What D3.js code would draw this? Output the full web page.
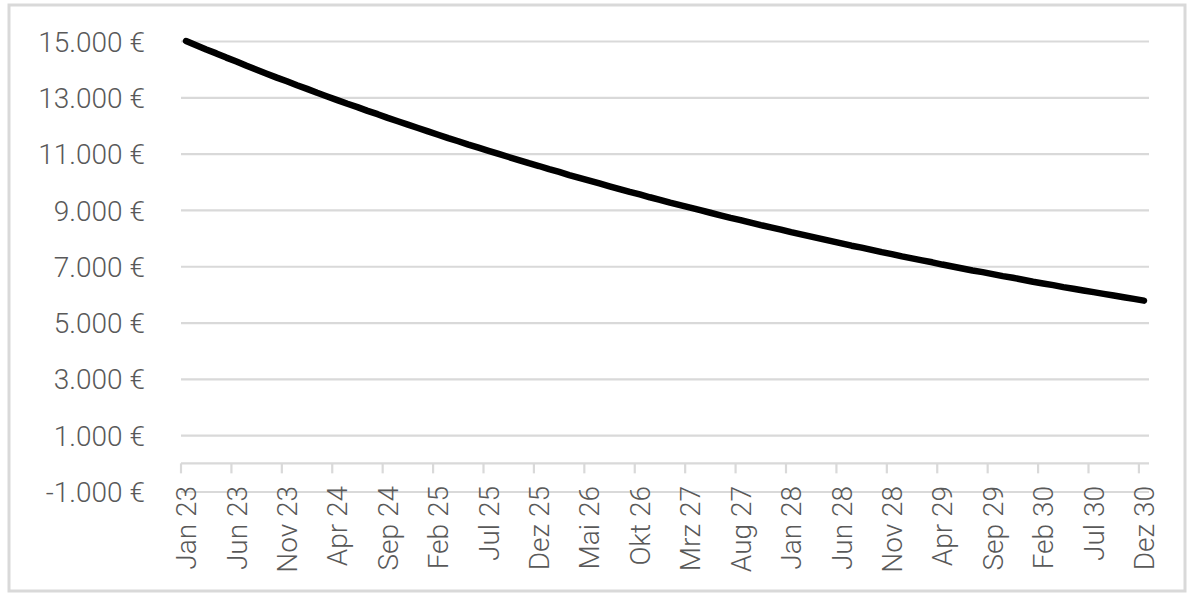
<!DOCTYPE html>
<html>
<head>
<meta charset="utf-8">
<script src="https://cdn.jsdelivr.net/npm/d3@7"></script>
<style>
  html, body { margin: 0; padding: 0; background: #fff; }
  svg { display: block; }
  text { font-family: Roboto, "Noto Sans", sans-serif; fill: #595959; font-weight: 300; }
</style>
</head>
<body>
<svg id="chart" width="1200" height="605"></svg>
<script>
// ---- data ----
const monthNames = ["Jan","Feb","Mrz","Apr","Mai","Jun","Jul","Aug","Sep","Okt","Nov","Dez"];
const years = ["23","24","25","26","27","28","29","30"];
const categories = years.flatMap(y => monthNames.map(m => m + " " + y));
const values = [
  15000,14850,14700,14560,14410,14270,14120,13980,13840,13700,
  13570,13430,13300,13160,13030,12900,12770,12650,12520,12400,
  12270,12150,12030,11910,11790,11670,11550,11440,11320,11210,
  11100,10990,10880,10770,10660,10560,10450,10350,10240,10140,
  10040,9940,9840,9740,9640,9550,9450,9360,9260,9170,
  9080,8990,8900,8810,8720,8640,8550,8460,8380,8300,
  8210,8130,8050,7970,7890,7810,7730,7660,7580,7500,
  7430,7350,7280,7210,7140,7060,6990,6920,6850,6790,
  6720,6650,6590,6520,6450,6390,6330,6260,6200,6140,
  6080,6020,5960,5900,5840,5780
];
const yTicks = [-1000,1000,3000,5000,7000,9000,11000,13000,15000];
const tickEvery = 5;

// ---- layout ----
const svg = d3.select("#chart");
const pLeft = 181, pRight = 1149, pTop = 41, pBottom = 491.5;

svg.append("rect")
  .attr("x", 9).attr("y", 5).attr("width", 1176).attr("height", 586)
  .attr("fill", "#fff").attr("stroke", "#d9d9d9").attr("stroke-width", 3);

const x = d3.scaleBand().domain(categories).range([pLeft, pRight]).padding(0);
const y = d3.scaleLinear().domain([-1000, 15000]).range([pBottom, pTop]);

const fmt = v => d3.format(",")(v).replace(/,/g, ".").replace("\u2212", "-") + " €";

// gridlines + y labels
const yAxis = d3.axisLeft(y).tickValues(yTicks).tickSize(-(pRight - pLeft)).tickFormat(fmt).tickPadding(36);
const gy = svg.append("g").attr("transform", `translate(${pLeft},0)`).call(yAxis);
gy.select(".domain").remove();
gy.selectAll(".tick line").attr("stroke", "#d9d9d9").attr("stroke-width", 2.2);
gy.selectAll(".tick text")
  .attr("font-size", 28)
  .attr("font-family", "Roboto")
  .attr("font-weight", 300)
  .attr("fill", "#595959")
  .attr("dy", "0.36em");

// x axis at zero
const tickCats = categories.filter((d, i) => i % tickEvery === 0);
const y0 = y(0);
const gx = svg.append("g");
gx.append("line")
  .attr("x1", pLeft).attr("x2", pRight).attr("y1", y0).attr("y2", y0)
  .attr("stroke", "#d9d9d9").attr("stroke-width", 2.2);
gx.selectAll("line.tk").data(tickCats).join("line").attr("class", "tk")
  .attr("x1", d => x(d)).attr("x2", d => x(d))
  .attr("y1", y0).attr("y2", y0 + 10)
  .attr("stroke", "#d9d9d9").attr("stroke-width", 2.2);
gx.selectAll("text").data(tickCats).join("text")
  .attr("transform", d => `translate(${x(d) + x.bandwidth() / 2},486) rotate(-90)`)
  .attr("text-anchor", "end")
  .attr("dy", "0.36em")
  .attr("font-size", 28)
  .attr("font-weight", 300)
  .text(d => d);

// line
const line = d3.line()
  .x((d, i) => x(categories[i]) + x.bandwidth() / 2)
  .y(d => y(d));
svg.append("path")
  .datum(values)
  .attr("d", line)
  .attr("fill", "none")
  .attr("stroke", "#000")
  .attr("stroke-width", 6.5)
  .attr("stroke-linecap", "round")
  .attr("stroke-linejoin", "round");
</script>
</body>
</html>
